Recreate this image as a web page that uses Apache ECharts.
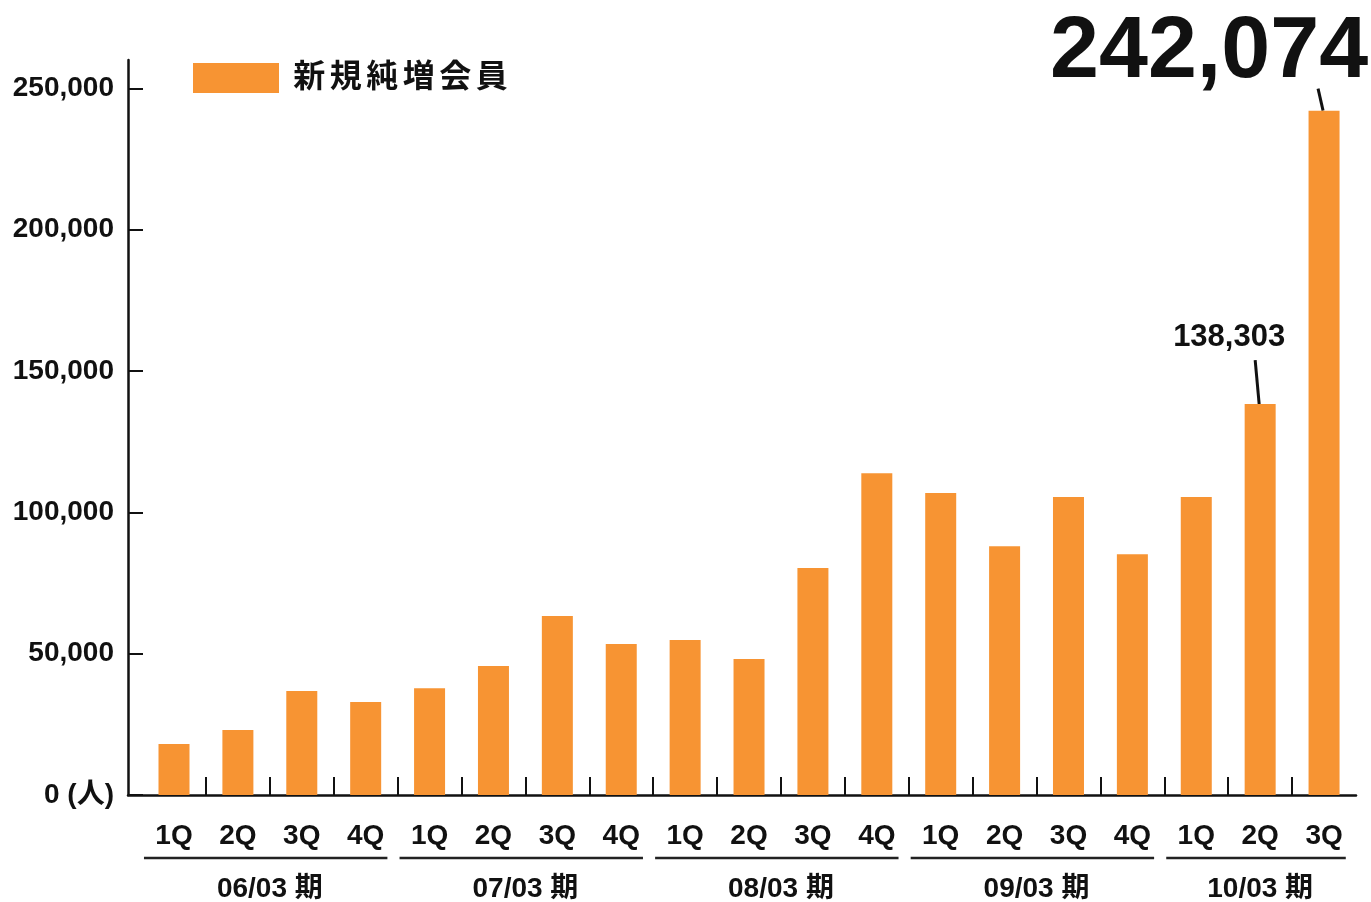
<!DOCTYPE html>
<html>
<head>
<meta charset="utf-8">
<title>新規純増会員</title>
<script src="https://cdn.jsdelivr.net/npm/echarts@6/dist/echarts.min.js"></script>
<style>
  html, body { margin: 0; padding: 0; background: #ffffff; }
  #chart { width: 1371px; height: 902px; }
</style>
</head>
<body>
<div id="chart"></div>
<script>
// Quarterly net new members, fiscal years ending March 2006 - March 2010
const quarterLabels = ['1Q', '2Q', '3Q', '4Q', '1Q', '2Q', '3Q', '4Q', '1Q', '2Q', '3Q', '4Q',
                       '1Q', '2Q', '3Q', '4Q', '1Q', '2Q', '3Q'];
const netNewMembers = [18000, 23000, 36800, 32900, 37800, 45600, 63300, 53400, 54800, 48100,
                       80300, 113800, 106800, 88000, 105400, 85200, 105400, 138303, 242074];
const fiscalYears = ['06/03 期', '07/03 期', '08/03 期', '09/03 期', '10/03 期'];
const quartersPerYear = [4, 4, 4, 4, 3];
const yTickValues = [0, 50000, 100000, 150000, 200000, 250000];
const calloutIndices = [17, 18];
const seriesName = '新規純増会員';

const INK = '#111111';
const ORANGE = '#F79433';
const LATIN = '"Liberation Sans", Arial, sans-serif';
const CJK = '"Liberation Sans", "Noto Sans CJK JP", sans-serif';

// first/last bar index of each fiscal-year group
const groups = [];
let start = 0;
quartersPerYear.forEach(function (n, i) {
  groups.push([start, start + n - 1, i]);
  start += n;
});

const barData = netNewMembers.map(function (v, i) { return [i, v]; });
const calloutData = calloutIndices.map(function (i) { return [i, netNewMembers[i]]; });

// callout styles: text size and where text / leader line sit relative to the bar top
const calloutStyle = {
  17: { size: 31, textDx: -31, textDy: -67, lineTopDx: -5, lineTopDy: -44 },
  18: { size: 88, textDx: -115, textDy: -58, lineTopDx: -6, lineTopDy: -22 }
};

// legend name drawn with a little letter spacing
const legendRich = seriesName.split('').map(function (ch) { return '{c|' + ch + '}'; }).join('');

const chart = echarts.init(document.getElementById('chart'), null, { renderer: 'canvas' });

const option = {
  backgroundColor: '#ffffff',
  animation: false,
  grid: { left: 128, right: 15, top: 60, bottom: 107, containLabel: false },
  legend: {
    data: [seriesName],
    left: 193,
    top: 62,
    padding: 0,
    itemWidth: 86,
    itemHeight: 30,
    itemStyle: { borderWidth: 0 },
    icon: 'rect',
    formatter: function () { return legendRich; },
    textStyle: {
      fontFamily: CJK,
      fontSize: 32,
      fontWeight: 'bold',
      color: INK,
      padding: [0, 0, 0, 7],
      rich: {
        c: {
          fontFamily: CJK,
          fontSize: 32,
          fontWeight: 'bold',
          color: INK,
          padding: [0, 2.25]
        }
      }
    },
    selectedMode: false
  },
  xAxis: {
    type: 'value',
    min: -0.72,
    max: 18.5,
    splitLine: { show: false },
    axisLine: { show: true, onZero: false, lineStyle: { color: INK, width: 2.5 } },
    axisTick: {
      show: true,
      inside: true,
      length: 18,
      lineStyle: { color: INK, width: 2 },
      customValues: quarterLabels.slice(1).map(function (_, i) { return i + 0.5; })
    },
    axisLabel: {
      show: true,
      margin: 27,
      fontFamily: LATIN,
      fontSize: 28,
      fontWeight: 'bold',
      color: INK,
      customValues: quarterLabels.map(function (_, i) { return i; }),
      formatter: function (v) { return quarterLabels[Math.round(v)]; }
    }
  },
  yAxis: {
    type: 'value',
    min: 0,
    max: 260000,
    splitLine: { show: false },
    axisLine: { show: true, onZero: false, lineStyle: { color: INK, width: 2.5 } },
    axisTick: {
      show: true,
      inside: true,
      length: 15,
      lineStyle: { color: INK, width: 2 },
      customValues: yTickValues
    },
    axisLabel: {
      margin: 14,
      fontFamily: CJK,
      fontSize: 28,
      fontWeight: 'bold',
      color: INK,
      customValues: yTickValues,
      formatter: function (v) {
        return v === 0 ? '0 (人)' : v.toLocaleString('en-US');
      }
    }
  },
  series: [
    {
      name: seriesName,
      type: 'bar',
      data: barData,
      barWidth: 31,
      itemStyle: { color: ORANGE },
      emphasis: { disabled: true }
    },
    {
      // value callouts with leader lines
      type: 'custom',
      name: 'callouts',
      data: calloutData,
      clip: false,
      silent: true,
      renderItem: function (params, api) {
        const idx = api.value(0);
        const val = api.value(1);
        const p = api.coord([idx, val]);
        const s = calloutStyle[idx];
        return {
          type: 'group',
          children: [
            {
              type: 'line',
              shape: { x1: p[0] + s.lineTopDx, y1: p[1] + s.lineTopDy, x2: p[0] - 1, y2: p[1] },
              style: { stroke: INK, lineWidth: 3 }
            },
            {
              type: 'text',
              x: p[0] + s.textDx,
              y: p[1] + s.textDy,
              style: {
                text: val.toLocaleString('en-US'),
                fontFamily: LATIN,
                fontSize: s.size,
                fontWeight: 'bold',
                fill: INK,
                align: 'center',
                verticalAlign: 'middle'
              }
            }
          ]
        };
      }
    },
    {
      // fiscal-year brackets under the quarter labels
      type: 'custom',
      name: 'years',
      data: groups,
      clip: false,
      silent: true,
      renderItem: function (params, api) {
        const first = api.value(0);
        const last = api.value(1);
        const label = fiscalYears[api.value(2)];
        const a = api.coord([first - 0.5 + 0.03, 0]);
        const b = api.coord([last + 0.5 - 0.16, 0]);
        const c = api.coord([(first + last) / 2, 0]);
        return {
          type: 'group',
          children: [
            {
              type: 'line',
              shape: { x1: a[0], y1: a[1] + 63, x2: b[0], y2: b[1] + 63 },
              style: { stroke: '#222222', lineWidth: 2.5 }
            },
            {
              type: 'text',
              x: c[0],
              y: c[1] + 94,
              style: {
                text: label,
                fontFamily: CJK,
                fontSize: 28,
                fontWeight: 'bold',
                fill: INK,
                align: 'center',
                verticalAlign: 'middle'
              }
            }
          ]
        };
      }
    }
  ]
};

chart.setOption(option);
</script>
</body>
</html>
